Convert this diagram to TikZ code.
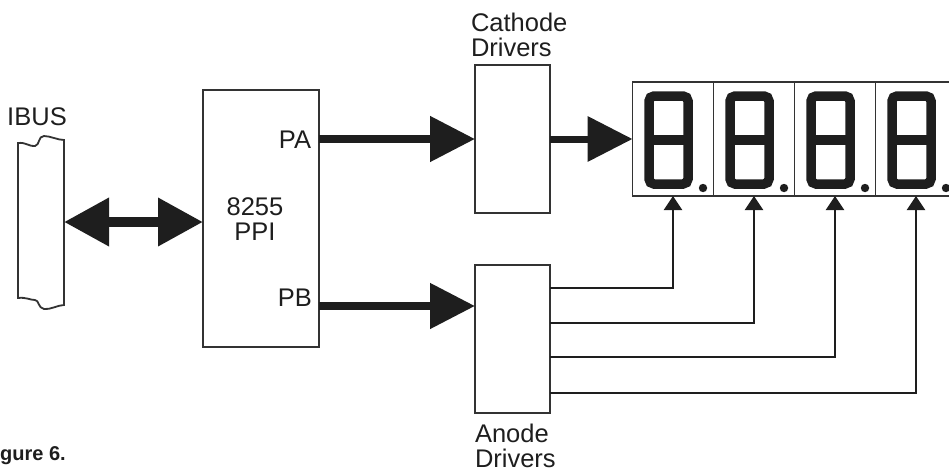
\documentclass[tikz,border=0pt]{standalone}
\usepackage{fontspec}
\setmainfont{Liberation Sans}
\usetikzlibrary{positioning,calc,arrows.meta}
\definecolor{ink}{HTML}{1E1E1E}
\definecolor{inkii}{HTML}{333333}
\tikzset{
  box/.style      = {draw=inkii, line width=1.8pt, inner sep=0pt, outer sep=0pt},
  cell/.style     = {draw=inkii, line width=1.5pt, minimum width=81pt, minimum height=114pt, inner sep=0pt, outer sep=0pt},
  lab/.style      = {font=\fontsize{25.5}{25}\selectfont\color{ink}, inner sep=0pt, outer sep=0pt},
  seg/.style      = {draw=ink, line width=9.5pt, rounded corners=5pt},
  fatarrow/.style = {-{Triangle[length=45pt,width=44pt]}, draw=ink, line width=8pt},
  duplex/.style   = {{Triangle[length=45pt,width=46pt]}-{Triangle[length=45pt,width=46pt]}, draw=ink, line width=10pt},
  wire/.style     = {-{Triangle[length=14pt,width=18pt]}, draw=ink, line width=2.4pt},
}
\begin{document}
\begin{tikzpicture}[x=1pt,y=-1pt]
\path[use as bounding box] (0,0) rectangle (949,471);

% ---- the bus --------------------------------------------------------------
\node[minimum width=46pt, minimum height=162pt, inner sep=0pt, outer sep=0pt] (bus) at (41,222) {};
\draw[box, fill=white] (18,143) .. controls (26,142) and (30,147) .. (35,146)
  .. controls (40,145) and (38,136) .. (44,136) .. controls (50,136) and (58,140) .. (64,140)
  -- (64,305) .. controls (58,305) and (50,310) .. (44,309)
  .. controls (38,308) and (39,300) .. (35,300) .. controls (30,300) and (26,297) .. (18,298) -- cycle;
\node[lab, anchor=base] (ibus) at (37,125) {IBUS};

% ---- the PPI and the drivers ---------------------------------------------
\node[box, minimum width=116pt, minimum height=257pt, anchor=north west] (ppi) at (203,90) {};
\node[lab, align=center, anchor=north] (ppilab) at (255,198) {8255\\PPI};
\node[lab, anchor=base east] (pa) at (311,148) {PA};
\node[lab, anchor=base east] (pb) at (312,306) {PB};

\node[box, minimum width=75pt, minimum height=148pt, anchor=north west] (cath) at (475,65) {};
\node[box, minimum width=75pt, minimum height=148pt, anchor=north west] (anode) at (475,265) {};
\node[lab, align=left, anchor=north west] (cathlab) at (471,13) {Cathode\\Drivers};
\node[lab, align=left, anchor=north west] (anodelab) at (475,424) {Anode\\Drivers};

% ---- the display ----------------------------------------------------------
\foreach \i in {1,...,4} {
  \node[cell] (d\i) at (673+81*\i-81,139) {};
  \begin{scope}[shift={(d\i.north west)}]
    \draw[seg] (16.5,14) rectangle (55.5,102);
    \draw[seg] (16.5,58) -- (55.5,58);
    \fill[ink] (70.5,106) circle (4.2);
  \end{scope}
}

% ---- connections ----------------------------------------------------------
\draw[duplex] (bus.east) -- (bus.east -| ppi.west);
\draw[fatarrow] (ppi.east |- cath.west) -- (cath.west);
\draw[fatarrow] (ppi.east |- pb.base) -- (anode.west |- pb.base);
\draw[fatarrow, line width=7pt] (cath.east) -- (cath.east -| d1.west);
\foreach \i/\y in {1/288, 2/323, 3/357, 4/393}
  \draw[wire] (anode.east |- 0,\y) -| (d\i.south);

\node[font=\fontsize{20}{22}\selectfont\bfseries\color{ink}, inner sep=0pt, anchor=base west] (fig) at (0,460) {gure 6.};

\end{tikzpicture}
\end{document}
